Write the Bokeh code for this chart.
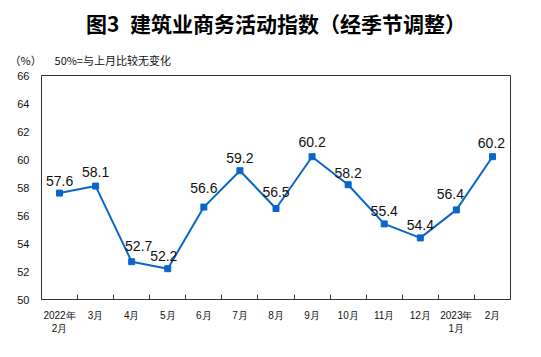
from bokeh.plotting import figure
from bokeh.models import FixedTicker, Range1d, Title
from bokeh.core.properties import value
from bokeh.embed import file_html
from bokeh.resources import INLINE

months = ["2022年\n2月", "3月", "4月", "5月", "6月", "7月", "8月", "9月",
          "10月", "11月", "12月", "2023年\n1月", "2月"]
index_values = [57.6, 58.1, 52.7, 52.2, 56.6, 59.2, 56.5, 60.2, 58.2, 55.4, 54.4, 56.4, 60.2]
y_ticks = [50, 52, 54, 56, 58, 60, 62, 64, 66]

title_text = "图3\u2002建筑业商务活动指数（经季节调整）"
note_text = "（%）\u3000\u00a0\u00a0 50%=与上月比较无变化"

# label placement (screen-pixel nudges, style only)
label_dx = [0, 0, 7, -4, 0, 0, 0, 0, 0, 0, 0, -6, -1]
label_gap = [12, 14, 16, 13, 19, 13, 17, 15, 12, 13, 13, 16, 14]

LINE = "#0A66C8"
AXIS = "#333333"
FONT = "Liberation Sans"

xs = list(range(len(months)))

p = figure(width=535, height=345, output_backend="svg", toolbar_location=None,
           x_range=Range1d(-0.5, len(months) - 0.5), y_range=Range1d(50, 66),
           min_border_left=41, min_border_right=25, min_border_top=75, min_border_bottom=46)
p.background_fill_color = "white"
p.border_fill_color = "white"
p.outline_line_color = AXIS
p.outline_line_width = 1
p.xgrid.visible = False
p.ygrid.visible = False

p.title.text = title_text
p.title.align = "center"
p.title.offset = 13
p.title.standoff = 8
p.title.text_font = "Noto Sans CJK SC"
p.title.text_font_size = "21px"
p.title.text_font_style = "bold"
p.title.text_color = "#000000"
p.add_layout(Title(text=note_text, align="left", offset=-32, standoff=16,
                   text_font="Noto Sans CJK SC", text_font_size="11px",
                   text_font_style="normal", text_color="#111111"), "above")

# x axis: labels at centres, small ticks at category boundaries
p.xaxis.ticker = FixedTicker(ticks=xs, minor_ticks=[i + 0.5 for i in xs[:-1]])
p.xaxis.major_label_overrides = {i: m for i, m in enumerate(months)}
p.xaxis.major_tick_in = 0
p.xaxis.major_tick_out = 0
p.xaxis.minor_tick_in = 5
p.xaxis.minor_tick_out = 0
p.xaxis.minor_tick_line_color = AXIS
p.xaxis.axis_line_color = AXIS
p.xaxis.major_label_text_font = FONT
p.xaxis.major_label_text_font_size = "10px"
p.xaxis.major_label_text_color = "#111111"
p.xaxis.major_label_standoff = 10

p.yaxis.ticker = FixedTicker(ticks=y_ticks)
p.yaxis.major_tick_in = 0
p.yaxis.major_tick_out = 0
p.yaxis.minor_tick_line_color = None
p.yaxis.axis_line_color = AXIS
p.yaxis.major_label_text_font = FONT
p.yaxis.major_label_text_font_size = "11px"
p.yaxis.major_label_text_color = "#111111"
p.yaxis.major_label_standoff = 12

p.line(xs, index_values, line_color=LINE, line_width=2)
p.scatter(xs, index_values, marker="square", size=6, fill_color=LINE, line_color=LINE)
p.text(xs, index_values, text=[f"{v:.1f}" for v in index_values],
       text_font=value(FONT), text_font_size="14px", text_color="#111111",
       text_align="center", text_baseline="alphabetic",
       x_offset=label_dx, y_offset=[-g for g in label_gap])

open("out.html", "w").write(file_html(p, INLINE))
